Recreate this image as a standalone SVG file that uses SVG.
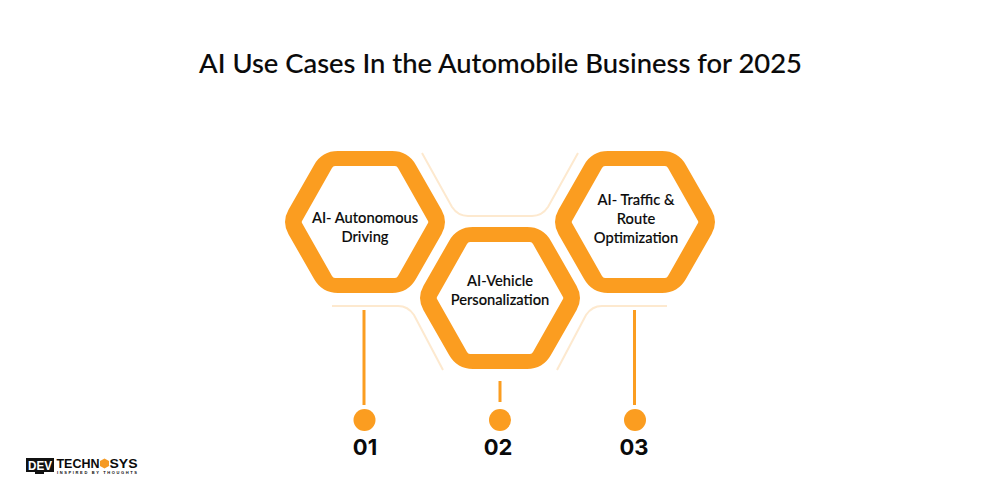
<svg xmlns="http://www.w3.org/2000/svg" width="1000" height="500" viewBox="0 0 1000 500">
<style>
text{font-family:"Lato","Liberation Sans",sans-serif;fill:#0a0a0a;text-anchor:middle}
.title{font-size:27.4px;font-weight:500;stroke:#0a0a0a;stroke-width:.1}
.lab{font-size:14.7px;font-weight:500;stroke:#0a0a0a;stroke-width:.15}
.num{font-size:22px;font-weight:700;font-family:"Inter","Liberation Sans",sans-serif}
.hex{fill:#fb9d20;fill-rule:evenodd}
.deco{fill:none;stroke:#fde9cf;stroke-width:2}
.stem{stroke:#fb9d20;stroke-width:3;fill:none}
.dot{fill:#fb9d20}
.lg{font-family:"Liberation Sans",sans-serif;font-weight:700}
</style>
<defs>
<path id="hx" d="M-27-71H27Q43-71 50.900-57.100L76.500-12.200Q83.500 0 76.500 12.200L50.900 57.100Q43 71 27 71H-27Q-43 71-50.900 57.100L-76.500 12.200Q-83.500 0-76.500-12.200L-50.900-57.100Q-43-71-27-71ZM-30-56Q-32-56-33-54L-63-1Q-63.500 0-63 1L-33 54Q-32 56-30 56H30Q32 56 33 54L63 1Q63.500 0 63-1L33-54Q32-56 30-56Z"/>
</defs>
<text class="title" x="500.500" y="73">AI Use Cases In the Automobile Business for 2025</text>
<g id="connectors">
<path class="deco" d="M422 153L452 207Q458 216 468 216H532Q542 216 548 207L578 153"/>
<path class="deco" d="M332 306H398Q408 306 414 315L443 370"/>
<path class="deco" d="M667 306H602Q592 306 586 315L557 370"/>
<path class="stem" d="M364 310V405"/>
<path class="stem" d="M500 381V402"/>
<path class="stem" d="M634.500 310V405"/>
</g>
<g id="node-1">
<use href="#hx" class="hex" transform="translate(365 222)"/>
<text class="lab" x="365" y="223">AI- Autonomous</text>
<text class="lab" x="365" y="242">Driving</text>
</g>
<g id="node-2">
<use href="#hx" class="hex" transform="translate(500 298)"/>
<text class="lab" x="500" y="286">AI-Vehicle</text>
<text class="lab" x="500" y="305">Personalization</text>
</g>
<g id="node-3">
<use href="#hx" class="hex" transform="translate(635 222)"/>
<text class="lab" x="636" y="205">AI- Traffic &amp;</text>
<text class="lab" x="636" y="224">Route</text>
<text class="lab" x="636" y="243">Optimization</text>
</g>
<g id="step-1"><circle class="dot" cx="364.500" cy="420" r="11"/><text class="num" x="365" y="455">01</text></g>
<g id="step-2"><circle class="dot" cx="500" cy="420" r="11"/><text class="num" x="498" y="455">02</text></g>
<g id="step-3"><circle class="dot" cx="635" cy="420" r="11"/><text class="num" x="634" y="455">03</text></g>
<g id="logo">
<rect x="26" y="458" width="28" height="14" fill="#111"/>
<rect x="35" y="472" width="9" height="2" fill="#111"/>
<text class="lg" x="40" y="469.500" style="font-size:12px;fill:#fff" textLength="24" lengthAdjust="spacingAndGlyphs">DEV</text>
<text class="lg" x="78" y="467.500" style="font-size:12.500px" textLength="43" lengthAdjust="spacingAndGlyphs">TECHN</text>
<path d="M104.500 458.500l4.500 2.500v5l-4.500 2.500-4.500-2.500v-5z" fill="#f59a23"/>
<text class="lg" x="123.500" y="467.500" style="font-size:12.500px" textLength="28" lengthAdjust="spacingAndGlyphs">SYS</text>
<text class="lg" x="97" y="474" style="font-size:4px" textLength="80" lengthAdjust="spacing">INSPIRED BY THOUGHTS</text>
</g>
</svg>
